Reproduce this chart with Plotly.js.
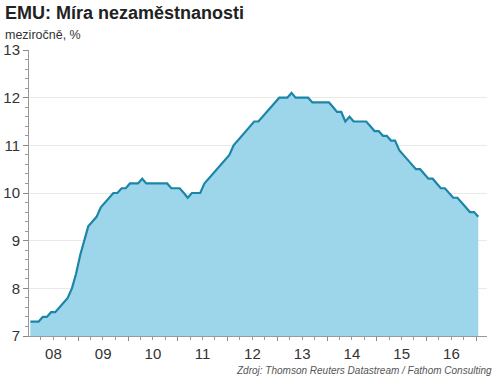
<!DOCTYPE html>
<html>
<head>
<meta charset="utf-8">
<script src="https://cdn.plot.ly/plotly-3.0.1.min.js"></script>
<style>
html,body{margin:0;padding:0;background:#fff;}
#chart{width:500px;height:378px;}
</style>
</head>
<body>
<div id="chart"></div>
<script>
// Monthly EMU unemployment rate, Jan 2008 – Jan 2017 (%)
var startYear = 2008;
var startMonth = 1;
var unemployment = [
  7.3, 7.3, 7.3, 7.4, 7.4, 7.5, 7.5, 7.6, 7.7, 7.8, 8.0, 8.3,
  8.7, 9.0, 9.3, 9.4, 9.5, 9.7, 9.8, 9.9, 10.0, 10.0, 10.1, 10.1,
  10.2, 10.2, 10.2, 10.3, 10.2, 10.2, 10.2, 10.2, 10.2, 10.2, 10.1, 10.1,
  10.1, 10.0, 9.9, 10.0, 10.0, 10.0, 10.2, 10.3, 10.4, 10.5, 10.6, 10.7,
  10.8, 11.0, 11.1, 11.2, 11.3, 11.4, 11.5, 11.5, 11.6, 11.7, 11.8, 11.9,
  12.0, 12.0, 12.0, 12.1, 12.0, 12.0, 12.0, 12.0, 11.9, 11.9, 11.9, 11.9,
  11.9, 11.8, 11.7, 11.7, 11.5, 11.6, 11.5, 11.5, 11.5, 11.5, 11.4, 11.3,
  11.3, 11.2, 11.2, 11.1, 11.1, 10.9, 10.8, 10.7, 10.6, 10.5, 10.5, 10.4,
  10.3, 10.3, 10.2, 10.1, 10.1, 10.0, 9.9, 9.9, 9.8, 9.7, 9.6, 9.6,
  9.5
];
var yTicks = [7, 8, 9, 10, 11, 12, 13];
var titleText = 'EMU: Míra nezaměstnanosti';
var subtitleText = 'meziročně, %';
var sourceText = 'Zdroj: Thomson Reuters Datastream / Fathom Consulting';

var dates = unemployment.map(function (v, i) {
  var total = (startMonth - 1) + i;
  var y = startYear + Math.floor(total / 12);
  var m = (total % 12) + 1;
  return y + '-' + (m < 10 ? '0' + m : m) + '-15';
});

var trace = {
  x: dates,
  y: unemployment,
  type: 'scatter',
  mode: 'lines',
  fill: 'tozeroy',
  fillcolor: '#9dd6ea',
  line: {color: '#1b86a8', width: 2.2, shape: 'linear'},
  hoverinfo: 'x+y'
};

var layout = {
  width: 500,
  height: 378,
  margin: {l: 29, r: 13, t: 50, b: 42},
  paper_bgcolor: '#ffffff',
  plot_bgcolor: '#ffffff',
  showlegend: false,
  font: {family: 'Liberation Sans, Arial, sans-serif', color: '#333333'},
  xaxis: {
    type: 'date',
    range: ['2008-01-05', '2017-03-20'],
    dtick: 'M12',
    tick0: '2008-01-01',
    tickformat: '%y',
    ticklabelmode: 'period',
    ticks: 'outside',
    ticklen: 4,
    tickcolor: '#888888',
    showgrid: false,
    showline: true,
    linecolor: '#999999',
    linewidth: 1,
    zeroline: false,
    tickfont: {size: 15, color: '#333333'},
    minor: {dtick: 'M3', ticks: 'outside', ticklen: 3, tickcolor: '#999999', showgrid: false}
  },
  yaxis: {
    range: [7, 13],
    tickvals: yTicks,
    ticks: 'outside',
    ticklen: 5,
    tickcolor: '#888888',
    showgrid: true,
    gridcolor: '#e9e9e9',
    gridwidth: 1,
    showline: true,
    linecolor: '#999999',
    linewidth: 1,
    zeroline: false,
    tickfont: {size: 15, color: '#333333'},
    minor: {dtick: 0.2, ticks: 'outside', ticklen: 3, tickcolor: '#999999', showgrid: false}
  },
  annotations: [
    {text: '<b>' + titleText + '</b>', xref: 'paper', yref: 'paper', x: 0, y: 1, xanchor: 'left', yanchor: 'middle',
     xshift: -26, yshift: 37, showarrow: false, font: {size: 18, color: '#222222'}},
    {text: subtitleText, xref: 'paper', yref: 'paper', x: 0, y: 1, xanchor: 'left', yanchor: 'middle',
     xshift: -26, yshift: 15, showarrow: false, font: {size: 12.5, color: '#333333'}},
    {text: '<i>' + sourceText + '</i>', xref: 'paper', yref: 'paper', x: 1, y: 0, xanchor: 'right', yanchor: 'middle',
     xshift: 7, yshift: -34, showarrow: false, font: {size: 10, color: '#555555'}}
  ]
};

Plotly.newPlot('chart', [trace], layout, {displayModeBar: false, staticPlot: true});
</script>
</body>
</html>
